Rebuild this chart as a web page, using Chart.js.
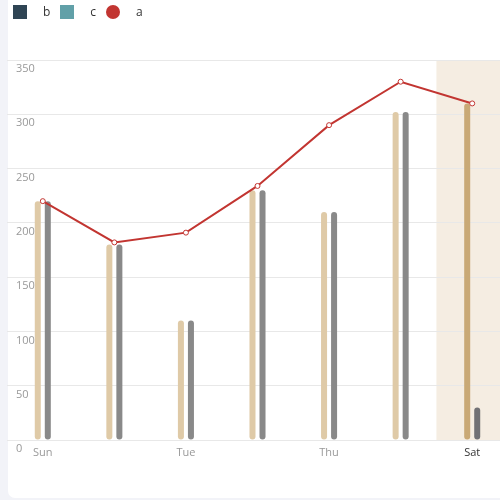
<!DOCTYPE html>
<html><head><meta charset="utf-8">
<script src="https://cdn.jsdelivr.net/npm/chart.js@4"></script>
<style>
html,body{margin:0;padding:0;width:500px;height:500px;overflow:hidden;background:#f2f3f8;}
#card{position:absolute;left:8px;top:-10px;width:600px;height:508px;background:#fff;border-radius:7px;}
#wrap{position:absolute;left:7px;top:0;width:501px;height:500px;}
#legend{position:absolute;left:13px;top:5px;display:flex;align-items:center;font:12px 'Open Sans',sans-serif;color:#333;z-index:2;}
#legend .box{width:14px;height:14px;margin-right:16px;}
#legend .txt{margin-right:10px;line-height:14px;}
</style></head>
<body>
<div id="card"></div>
<div id="wrap"><canvas id="c"></canvas></div>
<div id="legend"></div>
<script>
const categories = ['Sun','Mon','Tue','Wed','Thu','Fri','Sat'];
const seriesB = [220,180,110,230,210,302,310];
const seriesC = [220,180,110,230,210,302,30];
const seriesA = [220,182,191,234,290,330,310];
const legendNames = ['b','c','a'];
const legendColors = ['#2f4554','#61a0a8','#c23531'];
const yMin = 0, yMax = 350, yStep = 50;
const highlightCategory = 'Sat';
const hi = categories.indexOf(highlightCategory);

// HTML legend
const lg = document.getElementById('legend');
legendNames.forEach((n,i)=>{
  const b=document.createElement('span');b.className='box';b.style.background=legendColors[i];
  if(n==='a'){b.style.borderRadius='50%';}
  const t=document.createElement('span');t.className='txt';t.textContent=n;
  lg.appendChild(b);lg.appendChild(t);
});

const bandPlugin = {
  id:'band',
  beforeDraw(chart){
    const x=chart.scales.x, a=chart.chartArea, ctx=chart.ctx;
    const w=(x.right-x.left)/categories.length;
    const px=x.getPixelForValue(hi);
    ctx.save();
    ctx.fillStyle='#f5ede2';
    const l=Math.max(a.left,px-w/2), r=Math.min(a.right,px+w/2);
    ctx.fillRect(l,a.top,r-l,a.bottom-a.top);
    ctx.restore();
  }
};

new Chart(document.getElementById('c'),{
  type:'bar',
  data:{
    labels:categories,
    datasets:[
      {label:'b',data:seriesB,order:1,
       backgroundColor:c=>c.dataIndex===hi?'#c9a976':'#dfcaa7',
       borderRadius:3,borderSkipped:false,categoryPercentage:0.28,barPercentage:0.6},
      {label:'c',data:seriesC,order:1,
       backgroundColor:c=>c.dataIndex===hi?'#717175':'#898989',
       borderRadius:3,borderSkipped:false,categoryPercentage:0.28,barPercentage:0.6},
      {label:'a',type:'line',data:seriesA,order:0,
       borderColor:'#c23531',borderWidth:2,tension:0,
       pointRadius:2.5,pointBackgroundColor:'#fff',pointBorderColor:'#c23531',pointBorderWidth:1}
    ]
  },
  options:{
    responsive:true,maintainAspectRatio:false,animation:false,
    layout:{autoPadding:false,padding:{top:60,left:0,right:0,bottom:0}},
    plugins:{legend:{display:false},tooltip:{enabled:false}},
    scales:{
      x:{
        grid:{display:false,drawTicks:false},
        border:{display:false},
        afterFit(s){s.height=60;s.paddingLeft=0;s.paddingRight=0;},
        ticks:{autoSkip:false,maxRotation:0,padding:6,
          font:{family:'Open Sans',size:11},
          color:c=>c.index===hi?'#333':'#999',
          callback:function(v,i){return i%2===0?categories[i]:'';}}
      },
      y:{
        min:yMin,max:yMax,
        afterFit(s){s.width=0;s.paddingTop=0;s.paddingBottom=0;},
        grid:{color:'#e8e8e8',drawTicks:false},
        border:{display:false},
        ticks:{stepSize:yStep,mirror:true,padding:9,labelOffset:9,
          font:{family:'Open Sans',size:11},color:'#999'}
      }
    }
  },
  plugins:[bandPlugin]
});
</script>
</body></html>
